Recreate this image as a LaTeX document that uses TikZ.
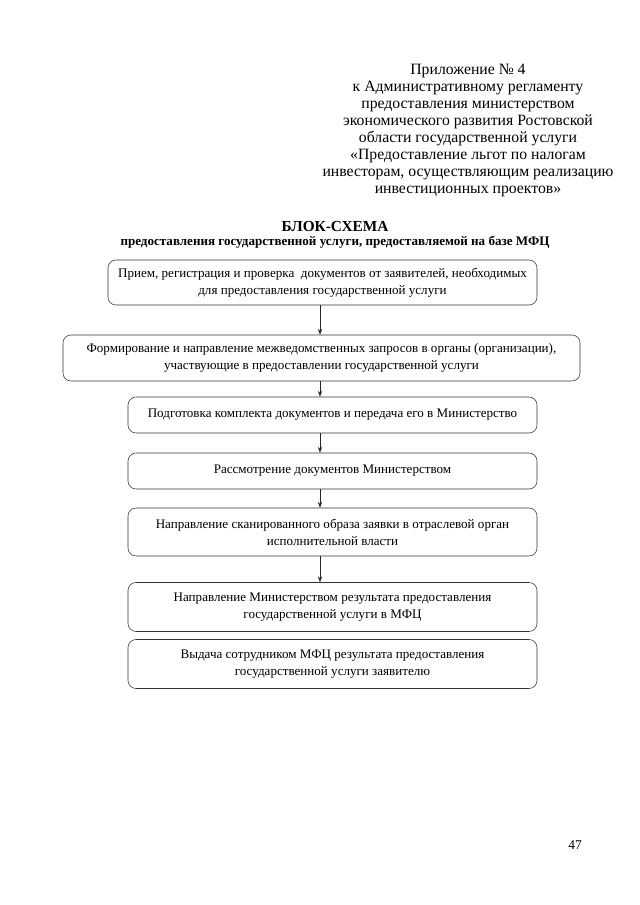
\documentclass[tikz,border=0pt]{standalone}
\usepackage{fontspec}
\setmainfont{Liberation Serif}
\usetikzlibrary{arrows.meta}
\tikzset{
  stepbox/.style={draw=black!80, line width=0.5pt, rounded corners=2.6mm, inner sep=0pt,
    align=center, font=\fontsize{12.2}{16}\selectfont},
  flow/.style={draw=black!85, line width=0.6pt, -{Stealth[length=1.9mm,width=1.4mm]}},
}
\begin{document}
\begin{tikzpicture}[x=0.328125mm, y=-0.328125mm]
\useasboundingbox (0,0) rectangle (640,905);
\fill[white] (0,0) rectangle (640,905);
\node[anchor=north, align=center, font=\fontsize{14.7}{15.9}\selectfont] (hdr) at (468,60)
 {Приложение № 4\\к Административному регламенту\\предоставления министерством\\экономического развития Ростовской\\области государственной услуги\\«Предоставление льгот по налогам\\инвесторам, осуществляющим реализацию\\инвестиционных проектов»};
\node[font=\fontsize{14.3}{15}\selectfont\bfseries] (ttl) at (335,226) {БЛОК-СХЕМА};
\node[font=\fontsize{12.2}{13}\selectfont\bfseries] (sub) at (335,242) {предоставления государственной услуги, предоставляемой на базе МФЦ};
\node[stepbox, minimum width=429*0.328125mm, minimum height=45*0.328125mm] (b1) at (322.5,282.5)
 {Прием, регистрация и проверка\ \ документов от заявителей, необходимых\\для предоставления государственной услуги};
\node[stepbox, minimum width=517*0.328125mm, minimum height=46*0.328125mm] (b2) at (321.5,358)
 {Формирование и направление межведомственных запросов в органы (организации),\\участвующие в предоставлении государственной услуги};
\node[stepbox, minimum width=409*0.328125mm, minimum height=36*0.328125mm] (b3) at (332.5,415)
 {Подготовка комплекта документов и передача его в Министерство};
\node[stepbox, minimum width=409*0.328125mm, minimum height=36*0.328125mm] (b4) at (332.5,471)
 {Рассмотрение документов Министерством};
\node[stepbox, minimum width=409*0.328125mm, minimum height=48*0.328125mm] (b5) at (332.5,532)
 {Направление сканированного образа заявки в отраслевой орган\\исполнительной власти};
\node[stepbox, minimum width=409*0.328125mm, minimum height=49*0.328125mm] (b6) at (332.5,607)
 {Направление Министерством результата предоставления\\государственной услуги в МФЦ};
\node[stepbox, minimum width=409*0.328125mm, minimum height=49*0.328125mm] (b7) at (332.5,664)
 {Выдача сотрудником МФЦ результата предоставления\\государственной услуги заявителю};
\node[font=\fontsize{12.5}{14}\selectfont] (pg) at (575,845) {47};
\coordinate (ax) at (320,0);
\draw[flow] (b1.south -| ax) -- (b2.north -| ax);
\draw[flow] (b2.south -| ax) -- (b3.north -| ax);
\draw[flow] (b3.south -| ax) -- (b4.north -| ax);
\draw[flow] (b4.south -| ax) -- (b5.north -| ax);
\draw[flow] (b5.south -| ax) -- (b6.north -| ax);
\end{tikzpicture}
\end{document}
